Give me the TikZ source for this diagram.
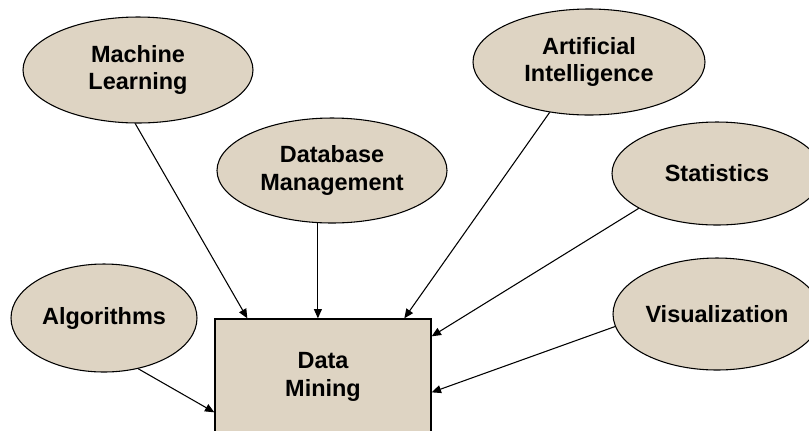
\documentclass[tikz,border=0pt]{standalone}
\usepackage{fontspec}
\setmainfont{Liberation Sans}
\usepackage{xcolor}
\usetikzlibrary{shapes,arrows,positioning,arrows.meta}

\definecolor{tan}{RGB}{222,212,195}

\begin{document}
\begin{tikzpicture}[x=0.75pt,y=-0.75pt,
    topic/.style={ellipse, draw, line width=0.8pt, fill=tan, inner sep=0pt, align=center,
        font=\fontsize{17.6}{20.6}\selectfont\bfseries},
    minebox/.style={rectangle, draw, line width=1pt, fill=tan, align=center,
        font=\fontsize{17.6}{20.6}\selectfont\bfseries},
    feed/.style={-{Triangle[length=7pt,width=6pt]}, line width=0.8pt}]
    \useasboundingbox (0,0) rectangle (809,430);

    % Topic ellipses
    \node[topic, minimum width=172.5pt, minimum height=79.5pt] (ml) at (138,70) {Machine\\Learning};
    \node[topic, minimum width=172.5pt, minimum height=78.75pt] (db) at (332,170.5) {Database\\Management};
    \node[topic, minimum width=174pt, minimum height=79.5pt] (ai) at (589,62) {Artificial\\Intelligence};
    \node[topic, minimum width=157.5pt, minimum height=77.25pt] (stat) at (717,173.5) {Statistics};
    \node[topic, minimum width=139.5pt, minimum height=81pt] (algo) at (104,318) {Algorithms};
    \node[topic, minimum width=156pt, minimum height=84pt] (vis) at (717,314) {Visualization};

    % Data mining box
    \node[minebox, minimum width=162pt, minimum height=87pt] (dm) at (323,377) {Data\\Mining};

    % Arrows into the box
    \draw[feed] (ml.-93) -- ([xshift=24.75pt]dm.north west);
    \draw[feed] (db.-105) -- (db.-105 |- dm.north);
    \draw[feed] (ai.-128) -- ([xshift=142.5pt]dm.north west);
    \draw[feed] (stat.-156.5) -- ([yshift=-13.5pt]dm.north east);
    \draw[feed] (vis.-173.4) -- ([yshift=-55.5pt]dm.north east);
    \draw[feed] (algo.-56.3) -- ([yshift=-70.5pt]dm.north west);
\end{tikzpicture}
\end{document}
